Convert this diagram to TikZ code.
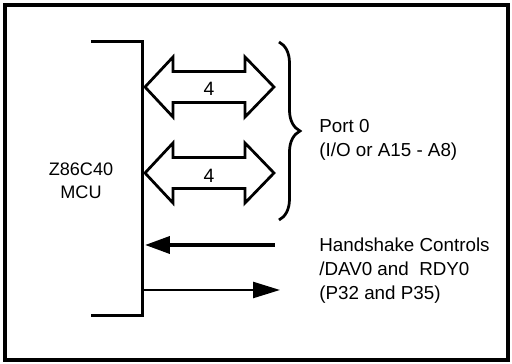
\documentclass[tikz,border=0pt]{standalone}
\usepackage{fontspec}
\setmainfont{Liberation Sans}
\usepackage{tikz}
\usetikzlibrary{arrows.meta, positioning, decorations.pathreplacing}
\definecolor{dline}{HTML}{000000}
\tikzset{
  frame/.style   = {draw=dline, line width=0.09cm},
  mcuedge/.style = {draw=dline, line width=0.06cm},
  bus/.style     = {draw=dline, line width=0.055cm, fill=white, line join=miter},
  buslbl/.style  = {font=\fontsize{11}{12}\selectfont, inner sep=0pt},
  lbl/.style     = {font=\fontsize{10.7}{13.6}\selectfont, align=left, anchor=west, inner sep=0pt},
  hsin/.style    = {-{Triangle[length=0.5cm, width=0.34cm]}, draw=dline, line width=0.075cm},
  hsout/.style   = {-{Triangle[length=0.54cm, width=0.32cm]}, draw=dline, line width=0.05cm},
  curly/.style   = {draw=dline, line width=0.055cm, decorate,
                    decoration={brace, amplitude=0.42cm}},
}

\begin{document}
\begin{tikzpicture}[x=0.02cm, y=-0.02cm]
        \useasboundingbox (0,0) rectangle (512,364);
        \draw[frame] (5,5) rectangle (508,360);
        % MCU side
        \coordinate (mtop) at (91,42);
        \coordinate (mbot) at (91,316);
        \draw[mcuedge] (mtop) -- (143,42) -- (143,316) -- (mbot);
        \node[font=\fontsize{10.3}{13.2}\selectfont, align=center, inner sep=0pt] (mcu) at (81,181) {Z86C40\\MCU};
        % port 0 buses
        \coordinate (b1l) at (145,87);
        \coordinate (b1r) at (274,87);
        \coordinate (b2l) at (145,173);
        \coordinate (b2r) at (274,173);
        \draw[bus] (b1l) -- ++(28,-30) -- ++(0,14.5) -- ++(72,0) -- ++(0,-14.5) -- (b1r)
                   -- ++(-29,30) -- ++(0,-14.5) -- ++(-72,0) -- ++(0,14.5) -- cycle;
        \draw[bus] (b2l) -- ++(28,-30) -- ++(0,14.5) -- ++(72,0) -- ++(0,-14.5) -- (b2r)
                   -- ++(-29,30) -- ++(0,-14.5) -- ++(-72,0) -- ++(0,14.5) -- cycle;
        \node[buslbl] (n1) at (209,89) {4};
        \node[buslbl] (n2) at (209,176) {4};
        \coordinate (brt) at (279,42);
        \coordinate (brb) at (279,220);
        \draw[curly] (brt) -- (brb);
        \node[lbl] (port) at (319,140) {Port 0\\(I/O or A15 - A8)};
        % handshake lines
        \coordinate (hin) at (275,245);
        \coordinate (hinend) at (145,245);
        \coordinate (hout) at (143,290);
        \coordinate (houtend) at (280,290);
        \draw[hsin] (hin) -- (hinend);
        \draw[hsout] (hout) -- (houtend);
        \node[lbl] (hs) at (319,271) {Handshake Controls\\/DAV0 and \ RDY0\\(P32 and P35)};
    \end{tikzpicture}
\end{document}
